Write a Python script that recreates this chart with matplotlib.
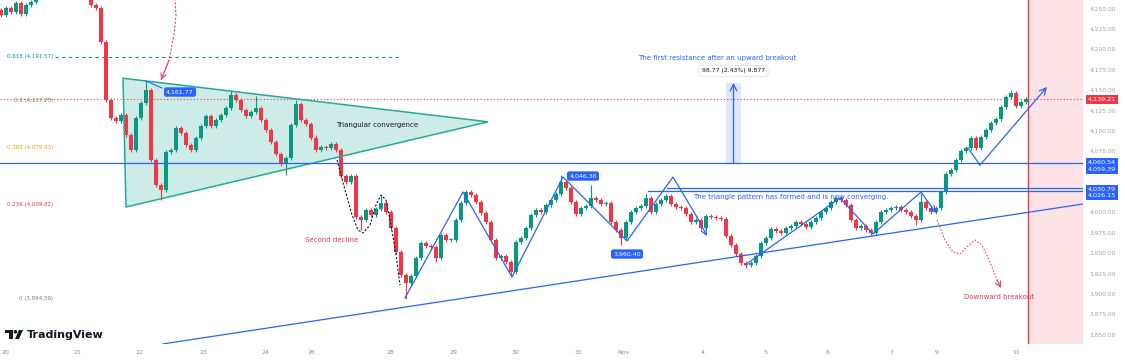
import matplotlib
matplotlib.use("Agg")
import matplotlib.pyplot as plt
from matplotlib.patches import Rectangle, Polygon, Circle
from matplotlib.transforms import blended_transform_factory, IdentityTransform

# candle closes (open = previous close)
first_open = 4249
closes = [
    4243, 4251, 4246, 4257, 4244, 4255, 4259, 4268, 4276, 4285,
    4292, 4288, 4296, 4301, 4294, 4286, 4278, 4266, 4255, 4251,
    4210, 4138, 4116, 4112, 4120, 4095, 4077, 4116, 4135, 4151,
    4065, 4034, 4028, 4075, 4077, 4104, 4098, 4083, 4077, 4092,
    4106, 4119, 4106, 4114, 4120, 4128, 4144, 4138, 4126, 4119,
    4124, 4128, 4114, 4101, 4087, 4072, 4060, 4067, 4108, 4133,
    4114, 4109, 4092, 4077, 4081, 4079, 4084, 4077, 4045, 4038,
    4045, 3995, 3991, 4003, 3997, 4005, 4012, 4001, 3981, 3952,
    3924, 3914, 3922, 3944, 3963, 3959, 3958, 3944, 3973, 3967,
    3967, 3991, 4012, 4025, 4022, 4013, 4000, 3989, 3967, 3944,
    3947, 3940, 3927, 3964, 3969, 3981, 3997, 4003, 4001, 4010,
    4016, 4023, 4038, 4030, 4013, 3998, 4006, 4008, 4018, 4016,
    4011, 4012, 3989, 3979, 3969, 3989, 4001, 4006, 4008, 4018,
    4001, 4011, 4016, 4020, 4011, 4007, 4006, 3998, 3989, 3991,
    3981, 3996, 3995, 3994, 3992, 3971, 3960, 3949, 3938, 3936,
    3938, 3947, 3963, 3969, 3980, 3977, 3975, 3981, 3984, 3989,
    3986, 3982, 3989, 3994, 4001, 4006, 4013, 4018, 4016, 4010,
    3991, 3981, 3984, 3979, 3975, 3989, 4001, 4003, 4006, 4007,
    4003, 4001, 3996, 3991, 4013, 4006, 4001, 4006, 4025, 4047,
    4052, 4065, 4076, 4079, 4092, 4079, 4093, 4101, 4110, 4115,
    4130, 4142, 4147, 4131, 4136, 4139.21,
]
hi_marks = {29: 4161.77, 46: 4150, 51: 4143, 59: 4138, 63: 4095, 76: 4022,
            112: 4046.36, 118: 4034, 129: 4024, 184: 4024, 202: 4150}
lo_marks = {32: 4015, 57: 4046, 72: 3979, 81: 3894.39, 87: 3940, 102: 3922,
            124: 3960.40, 149: 3932, 183: 3985}
wick = 2.5

# x-axis day labels (candle index)
date_pos = [0.8, 15.2, 27.8, 40.4, 52.8, 62.0, 77.8, 90.4, 102.8, 115.4,
            124.6, 140.4, 152.8, 165.4, 178.0, 187.2, 203.0]
date_labels = ["20", "21", "22", "23", "24", "26", "28", "29", "30", "31",
               "Nov", "4", "5", "6", "7", "9", "11"]
price_ticks = [3850, 3875, 3900, 3925, 3950, 3975, 4000, 4075,
               4100, 4125, 4150, 4175, 4200, 4225, 4250]

# fibonacci labels
fib_prices = [4191.57, 4137.25, 4079.93, 4009.82, 3894.39]
fib_labels = ["0.618 (4,191.57)", "0.5 (4,137.25)", "0.382 (4,079.93)",
              "0.236 (4,009.82)", "0 (3,894.39)"]
fib_colors = ["#089981", "#6d8b3a", "#ff9800", "#f23645", "#787b86"]

# drawings (candle index, price)
tri_x = [24.4, 97.4, 25.0]
tri_y = [4165, 4111.5, 4007]
trend_x = [32.4, 216.4]
trend_y = [3839, 4010.7]
zig1_x = [80.8, 92.4, 102.2, 112.4, 125.2, 134.4, 139.2, 141.2]
zig1_y = [3895.4, 4025.4, 3921.1, 4043.8, 3965.3, 4043.8, 3994.7, 3971.4]
zig2_x = [148.8, 167.8, 174.4, 184.0, 187.0]
zig2_y = [3935.8, 4018.1, 3973.9, 4025.4, 3999.6]
zig3_x = [193.4, 195.8, 209.2]
zig3_y = [4079.4, 4058.5, 4154.3]
arc_pink_x = [32.0, 33.6, 34.6, 35.0, 34.8]
arc_pink_y = [4162.8, 4187.0, 4218.0, 4242.0, 4261.0]
arc_black_x = [67.2, 68.8, 70.2, 71.4, 72.4, 73.8, 75.0, 76.0, 77.0, 78.0, 79.0, 79.8]
arc_black_y = [4064.7, 4027.9, 3997.2, 3978.8, 3975.1, 3984.9, 4009.5, 4021.7,
               4015.6, 3984.9, 3948.1, 3911.3]
arc_red_x = [187.2, 188.8, 190.4, 191.8, 193.4, 194.8, 196.2, 197.8, 199.2, 200.0]
arc_red_y = [3991.1, 3966.5, 3951.8, 3949.3, 3959.2, 3966.5, 3960.4, 3939.5,
             3917.4, 3907.6]
last_price = 4139.21
res_line = 4060.54
sup_lines = [(133.2, 4030.79), (129.4, 4026.15)]
measure_x = (145.0, 148.0)
measure_y = (4060.54, 4159.31)
now_x = 205.4

green = "#089981"
red = "#f23645"
blue = "#2962ff"
gray = "#8a8d96"

fig = plt.figure(figsize=(11.25, 3.6), dpi=100)
ax = fig.add_axes([0, 16 / 360, 1083 / 1125, 344 / 360])
ax.set_xlim(-0.2, 216.4)
ax.set_ylim(3838.9, 4261.0)
for s in ax.spines.values():
    s.set_visible(False)
ax.set_yticks([])
ax.set_xticks(date_pos, date_labels)
ax.tick_params(axis="x", length=0, labelsize=4.5, labelcolor=gray, pad=4.5)

# future zone
ax.axvspan(now_x, 216.4, color="#fde3e5", zorder=0, lw=0)
ax.axvline(now_x, color=red, lw=1, zorder=1)

# triangle
ax.add_patch(Polygon(list(zip(tri_x, tri_y)), closed=True, fc="#22ab94",
                     alpha=0.22, ec="none", zorder=1))
ax.add_patch(Polygon(list(zip(tri_x, tri_y)), closed=True, fill=False,
                     ec="#22ab94", lw=1.1, zorder=3))

# candles
opens = [first_open] + closes[:-1]
xs = list(range(len(closes)))
cols = [green if c >= o else red for o, c in zip(opens, closes)]
highs = [hi_marks.get(i, max(o, c) + wick) for i, (o, c) in enumerate(zip(opens, closes))]
lows = [lo_marks.get(i, min(o, c) - wick) for i, (o, c) in enumerate(zip(opens, closes))]
ax.vlines(xs, lows, highs, colors=cols, lw=0.8, zorder=2)
ax.bar(xs, [max(abs(c - o), 0.8) for o, c in zip(opens, closes)],
       bottom=[min(o, c) for o, c in zip(opens, closes)],
       width=0.7, color=cols, zorder=2)

# fib
ax.plot([10.8, 79.8], [fib_prices[0]] * 2, color=green, lw=0.8, ls=(0, (3, 3)), zorder=1)
for p, lab, c in zip(fib_prices, fib_labels, fib_colors):
    ax.text(10.4, p, lab, ha="right", va="center", fontsize=4, color=c)

# horizontal lines
ax.axhline(last_price, color=red, lw=0.8, ls=(0, (1, 2)), zorder=1)
ax.axhline(res_line, color=blue, lw=0.9, zorder=3)
for x0, p in sup_lines:
    ax.plot([x0, 216.4], [p, p], color=blue, lw=0.9, zorder=3)

# trend + zigzags
ax.plot(trend_x, trend_y, color=blue, lw=0.9, zorder=3)
ax.plot(zig1_x[:-1], zig1_y[:-1], color=blue, lw=0.9, zorder=3)
ax.annotate("", xy=(zig1_x[-1], zig1_y[-1]), xytext=(zig1_x[-2], zig1_y[-2]),
            arrowprops=dict(arrowstyle="->", color=blue, lw=0.9, shrinkA=0, shrinkB=0))
ax.plot(zig2_x[:-1], zig2_y[:-1], color=blue, lw=0.9, zorder=3)
ax.annotate("", xy=(zig2_x[-1], zig2_y[-1]), xytext=(zig2_x[-2], zig2_y[-2]),
            arrowprops=dict(arrowstyle="->", color=blue, lw=0.9, shrinkA=0, shrinkB=0))
ax.plot(zig3_x[:-1], zig3_y[:-1], color=blue, lw=0.9, zorder=3)
ax.annotate("", xy=(zig3_x[-1], zig3_y[-1]), xytext=(zig3_x[-2], zig3_y[-2]),
            arrowprops=dict(arrowstyle="->", color=blue, lw=0.9, shrinkA=0, shrinkB=0,
                            mutation_scale=12))

# dashed curves
ax.plot(arc_pink_x, arc_pink_y, color="#e0457b", lw=0.8, ls=(0, (2, 1.5)), zorder=3)
ax.annotate("", xy=(arc_pink_x[0], arc_pink_y[0]), xytext=(arc_pink_x[1], arc_pink_y[1]),
            arrowprops=dict(arrowstyle="->", color="#e0457b", lw=0.8, shrinkA=0, shrinkB=0))
ax.plot(arc_black_x, arc_black_y, color="#131722", lw=0.8, ls=(0, (2, 1.5)), zorder=3)
ax.plot(arc_red_x, arc_red_y, color="#e05060", lw=0.8, ls=(0, (1.5, 1.5)), zorder=3)
ax.annotate("", xy=(arc_red_x[-1], arc_red_y[-1]), xytext=(arc_red_x[-2], arc_red_y[-2]),
            arrowprops=dict(arrowstyle="->", color="#e05060", lw=0.8, shrinkA=0, shrinkB=0))

# measuring box
ax.add_patch(Rectangle((measure_x[0], measure_y[0]), measure_x[1] - measure_x[0],
                       measure_y[1] - measure_y[0], fc=blue, alpha=0.15, ec="none", zorder=2))
mx = (measure_x[0] + measure_x[1]) / 2
ax.annotate("", xy=(mx, measure_y[1]), xytext=(mx, measure_y[0]),
            arrowprops=dict(arrowstyle="->", color=blue, lw=0.9, shrinkA=0, shrinkB=0,
                            mutation_scale=12))
ax.text(mx, 4174, "98.77 (2.43%) 9,877", ha="center", va="center", fontsize=4.4,
        color="#131722", zorder=5,
        bbox=dict(boxstyle="round,pad=0.5", fc="white", ec="#e0e3eb", lw=0.6))

# texts
ax.text(143.2, 4190, "The first resistance after an upward breakout", ha="center",
        va="center", fontsize=5, color=blue)
ax.text(75.2, 4107.6, "Triangular convergence", ha="center", va="center",
        fontsize=5, color="#131722", zorder=4)
ax.text(66.2, 3966.5, "Second decline", ha="center", va="center", fontsize=5, color="#e53950")
ax.text(138.4, 4019.3, "The triangle pattern has formed and is now converging.",
        ha="left", va="center", fontsize=5, color=blue, zorder=4)
ax.text(199.6, 3896.6, "Downward breakout", ha="center", va="center", fontsize=5,
        color="#e53950")

# price labels on chart
lbl = dict(boxstyle="round,pad=0.35", fc=blue, ec="none")
ax.plot([29.0, 32.2], [4161.6, 4153.0], color=blue, lw=0.8, zorder=4)
ax.text(35.8, 4148.1, "4,161.77", ha="center", va="center", fontsize=4.5, color="white",
        bbox=lbl, zorder=5)
ax.text(116.4, 4045.0, "4,046.36", ha="center", va="center", fontsize=4.5, color="white",
        bbox=lbl, zorder=5)
ax.text(125.2, 3949.3, "3,960.40", ha="center", va="center", fontsize=4.5, color="white",
        bbox=lbl, zorder=5)

# right price scale
tr = blended_transform_factory(fig.transFigure, ax.transData)
for p in price_ticks:
    ax.text(1103 / 1125, p, f"{p:,.2f}", transform=tr, ha="center", va="center",
            fontsize=4.3, color="#a0a3ab")
ax.text(1102 / 1125, last_price, "4,139.21", transform=tr, ha="center", va="center",
        fontsize=4.6, color="white", zorder=6,
        bbox=dict(boxstyle="square,pad=0.35", fc=red, ec="none"))
ax.text(1102 / 1125, 4057.3, "4,060.54\n4,059.39", transform=tr, ha="center", va="center",
        fontsize=4.6, color="white", linespacing=1.4, zorder=6,
        bbox=dict(boxstyle="square,pad=0.3", fc=blue, ec="none"))
ax.text(1102 / 1125, 4025.0, "4,030.79\n4,026.15", transform=tr, ha="center", va="center",
        fontsize=4.6, color="white", linespacing=1.4, zorder=6,
        bbox=dict(boxstyle="square,pad=0.3", fc=blue, ec="none"))

# TradingView logo
it = IdentityTransform()
dark = "#131722"
fig.patches.append(Rectangle((5, 27), 8, 3, transform=it, fc=dark, ec="none"))
fig.patches.append(Rectangle((9, 21), 3.5, 8, transform=it, fc=dark, ec="none"))
fig.patches.append(Circle((15.5, 28.2), 1.8, transform=it, fc=dark, ec="none"))
fig.patches.append(Polygon([(15, 21), (19, 30), (23, 30), (19, 21)], closed=True,
                           transform=it, fc=dark, ec="none"))
fig.text(27 / 1125, 1 - 335 / 360, "TradingView", fontsize=8, fontweight="bold",
         va="center", ha="left", color=dark)

fig.savefig("out.png", dpi=100)
